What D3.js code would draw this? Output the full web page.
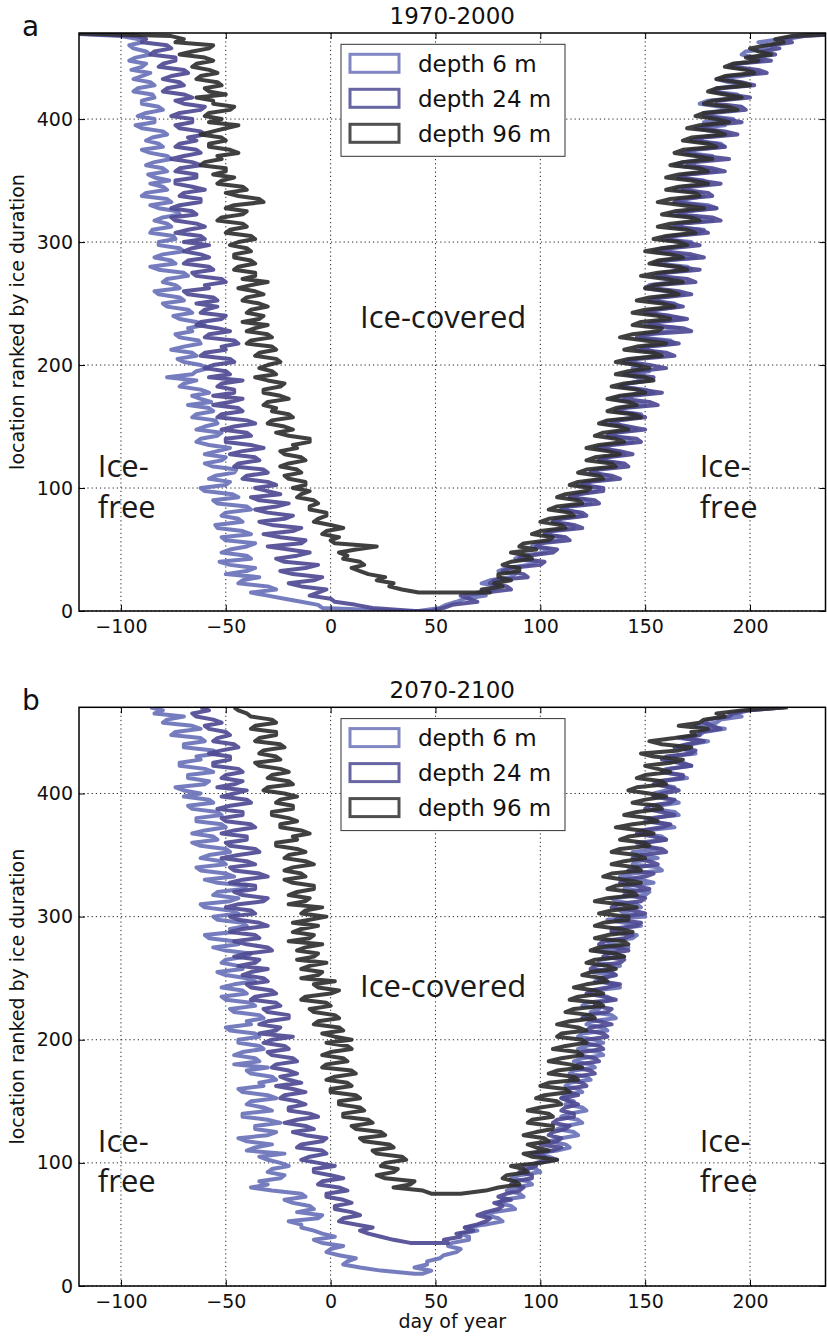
<!DOCTYPE html>
<html>
<head>
<meta charset="utf-8">
<script src="https://cdn.jsdelivr.net/npm/d3@7"></script>
<style>
  body { margin: 0; background: #fff; }
  svg { display: block; font-family: "DejaVu Sans", sans-serif; }
</style>
</head>
<body>
<svg id="chart" width="827" height="1341"></svg>
<script>
// location rank (y value) shared by every series, one entry per 2.5 locations
const ranks = d3.range(0, 470.1, 2.5);
const xTicks = [-100, -50, 0, 50, 100, 150, 200];
const yTicks = [0, 100, 200, 300, 400];
const depthLabels = ["depth 6 m", "depth 24 m", "depth 96 m"];
const depthColors = ["#6a72b8", "#4e4a93", "#303030"];
const panelTitles = ["1970-2000", "2070-2100"];
const panelLetters = ["a", "b"];

// 1970-2000: day of ice formation (freeze) and of break-up (melt), by rank
const freezeA6 = [
  35, -4, -6, -14, -22, -30, -38, -26, -30, -44, -42, -34, -50, -40, -36, -48, -53, -38, -40, -52,
  -48, -40, -36, -50, -52, -38, -42, -54, -55, -42, -44, -52, -50, -38, -40, -54, -56, -44, -47, -60,
  -62, -50, -48, -58, -55, -46, -45, -56, -60, -52, -50, -60, -54, -48, -58, -64, -62, -54, -52, -64,
  -60, -54, -55, -66, -64, -56, -58, -68, -57, -62, -66, -58, -62, -72, -70, -64, -78, -66, -64, -58,
  -62, -70, -73, -64, -66, -76, -70, -62, -63, -72, -74, -66, -68, -60, -64, -72, -75, -66, -68, -78,
  -80, -70, -72, -82, -84, -72, -74, -80, -78, -68, -70, -82, -86, -74, -76, -84, -80, -70, -72, -82,
  -82, -74, -75, -86, -85, -76, -78, -84, -80, -72, -73, -82, -86, -76, -78, -90, -88, -78, -80, -86,
  -77, -84, -87, -78, -80, -88, -84, -76, -78, -86, -90, -80, -82, -88, -85, -78, -80, -90, -93, -84,
  -84, -92, -88, -80, -82, -90, -90, -84, -85, -94, -92, -84, -86, -94, -90, -86, -95, -90, -88, -96,
  -93, -86, -88, -94, -96, -90, -92, -100, -130];
const meltA6 = [
  42, 52, 55, 60, 64, 74, 70, 78, 80, 72, 76, 86, 88, 80, 84, 94, 98, 88, 92, 102,
  104, 96, 98, 108, 110, 102, 104, 116, 114, 106, 108, 120, 118, 110, 112, 124, 122, 114, 118, 126,
  128, 118, 122, 134, 132, 124, 126, 136, 138, 128, 130, 140, 136, 126, 132, 144, 142, 132, 134, 146,
  140, 130, 134, 146, 148, 136, 138, 150, 144, 134, 140, 154, 150, 138, 142, 148, 146, 140, 152, 144,
  148, 140, 144, 156, 158, 146, 150, 164, 162, 148, 152, 160, 166, 150, 154, 168, 160, 150, 156, 166,
  164, 152, 156, 168, 160, 150, 152, 164, 166, 154, 158, 172, 170, 156, 160, 174, 164, 154, 158, 170,
  172, 158, 162, 176, 178, 162, 166, 182, 174, 162, 168, 184, 180, 164, 170, 178, 176, 164, 168, 180,
  178, 166, 170, 184, 176, 164, 168, 180, 182, 170, 174, 188, 186, 172, 176, 190, 182, 174, 188, 178,
  192, 180, 178, 190, 186, 176, 180, 196, 194, 182, 184, 198, 190, 184, 196, 204, 200, 190, 192, 206,
  202, 196, 198, 210, 208, 204, 214, 222, 250];
const freezeA24 = [
  40, 20, 12, 2, 0, -10, -6, -2, -14, -20, -8, -4, -18, -24, -12, -6, -22, -26, -16, -10,
  -20, -30, -14, -12, -24, -32, -18, -14, -28, -34, -22, -18, -30, -36, -26, -20, -34, -38, -24, -30,
  -36, -26, -30, -42, -40, -30, -32, -46, -44, -34, -36, -48, -42, -32, -38, -50, -50, -38, -40, -52,
  -46, -36, -40, -54, -52, -42, -44, -56, -48, -42, -56, -46, -46, -54, -52, -42, -58, -48, -50, -60,
  -56, -46, -48, -62, -60, -50, -52, -44, -46, -60, -58, -48, -54, -64, -62, -52, -50, -62, -60, -54,
  -64, -54, -56, -68, -70, -58, -60, -50, -52, -64, -66, -56, -58, -70, -68, -58, -62, -70, -66, -58,
  -70, -60, -62, -74, -68, -60, -64, -74, -76, -64, -66, -76, -72, -62, -62, -72, -70, -60, -66, -74,
  -74, -64, -64, -74, -72, -62, -66, -76, -70, -62, -64, -74, -72, -64, -68, -60, -62, -72, -74, -66,
  -66, -76, -72, -62, -60, -70, -74, -66, -70, -80, -78, -70, -72, -80, -76, -68, -70, -82, -80, -74,
  -74, -86, -84, -76, -78, -90, -88, -92, -130];
const meltA24 = [
  48, 54, 58, 70, 66, 62, 74, 86, 84, 76, 78, 94, 92, 82, 86, 100, 102, 90, 94, 106,
  108, 98, 100, 114, 112, 102, 106, 120, 116, 106, 110, 122, 120, 110, 114, 128, 126, 114, 118, 130,
  130, 120, 124, 138, 134, 124, 128, 142, 140, 128, 132, 144, 138, 128, 134, 148, 146, 132, 136, 150,
  142, 134, 138, 150, 146, 136, 140, 156, 152, 140, 144, 158, 148, 138, 142, 152, 154, 142, 146, 160,
  152, 142, 146, 164, 160, 148, 152, 166, 158, 146, 150, 172, 168, 152, 156, 170, 162, 150, 154, 168,
  162, 152, 158, 172, 166, 154, 156, 174, 170, 156, 160, 176, 164, 154, 158, 178, 172, 158, 162, 176,
  168, 160, 164, 180, 176, 164, 168, 186, 182, 166, 170, 184, 176, 164, 166, 182, 180, 168, 172, 186,
  176, 166, 170, 188, 182, 170, 174, 190, 178, 168, 172, 188, 184, 172, 178, 194, 188, 176, 180, 196,
  188, 178, 182, 198, 196, 184, 184, 200, 190, 182, 186, 202, 196, 186, 190, 208, 204, 192, 194, 210,
  200, 212, 206, 214, 210, 220, 216, 226, 250];
const freezeA96 = [
  null, null, null, null, null, null, 42, 34, 28, 30, 22, 26, 18, 14, 10, 16, 14, 6, 8, 4,
  12, 22, 2, 0, 4, -4, -2, 6, 0, -8, -6, -2, -2, -10, -10, -6, -8, -16, -14, -10,
  -18, -12, -12, -20, -22, -14, -16, -24, -20, -12, -14, -22, -24, -16, -18, -10, -10, -20, -26, -18,
  -22, -30, -28, -18, -20, -28, -26, -32, -30, -20, -24, -32, -32, -24, -22, -30, -36, -26, -28, -34,
  -30, -24, -26, -36, -34, -26, -28, -40, -38, -28, -30, -40, -36, -30, -42, -34, -32, -40, -38, -30,
  -34, -42, -40, -32, -36, -44, -38, -30, -42, -36, -36, -46, -44, -36, -38, -46, -46, -38, -40, -48,
  -44, -36, -38, -50, -48, -40, -42, -54, -52, -42, -40, -50, -46, -32, -34, -44, -50, -40, -42, -54,
  -52, -46, -56, -50, -50, -62, -60, -52, -54, -44, -48, -58, -58, -50, -52, -62, -56, -50, -44, -58,
  -52, -60, -58, -48, -46, -56, -56, -64, -50, -58, -60, -52, -54, -64, -62, -54, -58, -66, -64, -56,
  -60, -72, -66, -58, -56, -74, -70, -76, -130];
const meltA96 = [
  null, null, null, null, null, null, 76, 72, 82, 78, 86, 80, 80, 90, 90, 82, 86, 96, 94, 86,
  98, 90, 92, 104, 106, 96, 100, 112, 110, 100, 104, 116, 114, 104, 108, 120, 118, 108, 112, 122,
  124, 114, 118, 130, 128, 118, 122, 136, 134, 122, 126, 138, 132, 122, 128, 140, 136, 126, 130, 142,
  138, 128, 132, 148, 144, 132, 136, 146, 142, 132, 138, 150, 146, 134, 140, 154, 150, 136, 142, 152,
  146, 136, 142, 158, 154, 140, 146, 160, 150, 138, 144, 156, 158, 144, 148, 162, 156, 144, 150, 164,
  158, 146, 152, 166, 162, 150, 154, 168, 160, 148, 156, 170, 166, 152, 156, 168, 162, 150, 158, 170,
  166, 154, 160, 174, 170, 156, 162, 176, 172, 158, 164, 178, 168, 156, 162, 176, 174, 160, 166, 180,
  172, 160, 166, 180, 176, 162, 168, 182, 174, 164, 168, 184, 180, 168, 172, 188, 184, 170, 176, 190,
  184, 174, 178, 194, 190, 178, 182, 196, 188, 180, 184, 200, 194, 184, 188, 202, 198, 188, 192, 204,
  198, 210, 204, 200, 208, 216, 212, 220, 250];

// 2070-2100
const freezeB6 = [
  null, null, null, null, 40, 24, 14, 6, 8, 12, 4, -2, 0, 6, -4, -8, 2, -4, -8, -14,
  -14, -20, -6, -4, -16, -8, -10, -18, -22, -12, -14, -28, -38, -30, -34, -24, -22, -30, -28, -20,
  -24, -30, -34, -22, -40, -36, -28, -40, -44, -30, -26, -36, -36, -24, -30, -42, -42, -28, -32, -40,
  -38, -26, -30, -42, -44, -32, -34, -26, -28, -38, -40, -30, -46, -34, -36, -46, -42, -32, -34, -44,
  -44, -34, -36, -48, -50, -38, -40, -32, -34, -46, -48, -36, -38, -50, -52, -40, -42, -52, -46, -36,
  -40, -50, -54, -42, -44, -52, -50, -40, -38, -50, -56, -44, -46, -58, -60, -46, -48, -40, -42, -54,
  -56, -44, -48, -60, -62, -48, -44, -56, -54, -42, -40, -54, -60, -46, -50, -62, -64, -50, -52, -62,
  -58, -48, -50, -62, -66, -54, -56, -66, -60, -50, -52, -64, -64, -52, -54, -66, -68, -56, -58, -70,
  -62, -70, -74, -60, -58, -68, -68, -56, -60, -72, -72, -62, -64, -54, -56, -70, -70, -60, -62, -76,
  -74, -62, -66, -80, -78, -70, -84, -80, -86];
const meltB6 = [
  null, null, null, null, 44, 48, 40, 46, 46, 52, 54, 60, 62, 56, 58, 66, 66, 62, 70, 64,
  74, 82, 80, 74, 78, 88, 86, 80, 82, 92, 90, 84, 88, 96, 94, 86, 90, 100, 98, 92,
  100, 108, 104, 98, 108, 114, 112, 104, 110, 118, 116, 108, 112, 120, 118, 110, 114, 122, 120, 112,
  116, 110, 112, 120, 118, 112, 114, 124, 122, 114, 116, 126, 124, 116, 120, 130, 128, 118, 122, 130,
  126, 118, 120, 132, 130, 122, 124, 136, 134, 124, 128, 120, 122, 134, 132, 124, 126, 138, 136, 126,
  130, 136, 124, 132, 138, 128, 128, 140, 134, 126, 142, 134, 132, 144, 146, 134, 136, 148, 140, 132,
  150, 140, 138, 148, 146, 136, 134, 150, 152, 140, 142, 154, 148, 138, 144, 158, 156, 144, 146, 156,
  150, 144, 156, 148, 146, 160, 158, 148, 150, 164, 160, 150, 152, 166, 164, 154, 156, 166, 162, 154,
  154, 160, 164, 156, 158, 170, 166, 158, 160, 172, 168, 160, 162, 174, 170, 166, 172, 180, 166, 176,
  178, 188, 174, 184, 186, 196, 190, 198, 217];
const freezeB24 = [
  null, null, null, null, null, null, null, null, null, null, null, null, null, null, 38, 30, 24, 18, 14, 20,
  12, 4, 6, 14, 10, 2, 2, 10, 6, -2, -2, 8, 4, -6, -4, 6, 0, -8, -8, 2,
  -6, -14, -10, -2, -4, -16, -14, -4, -2, -12, -18, -8, -12, -22, -16, -6, -10, -20, -20, -12,
  -16, -24, -22, -12, -18, -26, -14, -20, -24, -16, -20, -28, -26, -16, -18, -28, -30, -20, -22, -32,
  -28, -18, -34, -26, -24, -34, -30, -20, -20, -30, -32, -24, -26, -38, -36, -26, -28, -38, -40, -30,
  -32, -42, -38, -30, -44, -36, -34, -46, -40, -28, -30, -40, -46, -34, -36, -48, -42, -30, -34, -44,
  -48, -36, -38, -50, -44, -32, -30, -42, -46, -36, -36, -48, -42, -30, -34, -46, -48, -36, -40, -52,
  -44, -34, -36, -48, -50, -40, -40, -52, -46, -36, -38, -50, -52, -42, -42, -54, -48, -38, -40, -52,
  -46, -40, -54, -46, -42, -52, -50, -42, -44, -56, -56, -48, -48, -58, -52, -44, -46, -56, -54, -48,
  -50, -58, -60, -52, -56, -64, -66, -58, -62];
const meltB24 = [
  null, null, null, null, null, null, null, null, null, null, null, null, null, null, 56, 54, 62, 60, 68, 64,
  70, 74, 76, 70, 74, 80, 82, 78, 86, 80, 84, 90, 92, 86, 88, 96, 96, 90, 94, 98,
  98, 104, 102, 96, 106, 110, 100, 108, 110, 104, 106, 112, 114, 106, 108, 116, 116, 110, 112, 118,
  114, 110, 118, 114, 112, 122, 120, 114, 116, 126, 124, 116, 118, 128, 126, 118, 120, 130, 128, 120,
  122, 132, 130, 122, 124, 134, 128, 120, 122, 132, 134, 126, 126, 136, 130, 122, 124, 132, 138, 128,
  128, 136, 134, 124, 126, 138, 140, 130, 132, 142, 136, 128, 130, 140, 144, 134, 134, 146, 148, 136,
  140, 150, 144, 134, 136, 148, 150, 140, 142, 152, 146, 138, 140, 150, 154, 142, 146, 156, 152, 144,
  148, 160, 158, 148, 150, 160, 154, 146, 148, 158, 162, 152, 154, 164, 158, 150, 152, 162, 164, 154,
  158, 166, 162, 154, 156, 168, 168, 158, 162, 172, 166, 158, 160, 172, 174, 164, 170, 178, 168, 176,
  176, 186, 182, 178, 180, 190, 192, 200, 216];
const freezeB96 = [
  null, null, null, null, null, null, null, null, null, null, null, null, null, null, null, null, null, null, null, null,
  null, null, null, null, null, null, null, null, null, null, 48, 44, 30, 38, 40, 26, 22, 30, 32, 24,
  26, 36, 34, 22, 20, 30, 28, 16, 14, 26, 24, 12, 10, 20, 18, 6, 6, 16, 14, 4,
  4, 14, 12, 0, 0, 10, 8, -2, 2, 12, 10, -4, -2, 8, 6, -4, 0, 10, 8, -2,
  10, 2, -4, 6, 4, -8, -6, 4, 2, -8, -10, 0, -2, -14, -12, 0, 4, -6, -8, 2,
  -14, -6, -4, -14, -10, -2, -16, -8, -6, -16, -12, -4, -20, -10, -8, -18, -14, -6, -18, -10,
  -2, -14, -12, -4, -20, -12, -10, -20, -16, -8, -8, -18, -22, -12, -14, -22, -18, -8, -12, -22,
  -20, -12, -16, -26, -26, -16, -18, -10, -14, -24, -24, -16, -20, -28, -28, -18, -18, -26, -24, -16,
  -22, -32, -30, -18, -20, -30, -28, -20, -24, -34, -36, -24, -26, -34, -32, -22, -24, -36, -34, -26,
  -26, -38, -36, -26, -28, -38, -40, -44, -46];
const meltB96 = [
  null, null, null, null, null, null, null, null, null, null, null, null, null, null, null, null, null, null, null, null,
  null, null, null, null, null, null, null, null, null, null, 62, 74, 80, 90, 88, 82, 84, 94, 92, 86,
  100, 108, 96, 92, 104, 98, 94, 104, 102, 92, 98, 106, 106, 94, 96, 106, 104, 94, 100, 110,
  108, 98, 102, 114, 112, 100, 104, 118, 116, 104, 108, 120, 114, 104, 110, 120, 118, 106, 112, 122,
  120, 108, 110, 122, 118, 108, 114, 126, 124, 112, 116, 130, 128, 114, 118, 130, 126, 116, 122, 132,
  130, 120, 124, 136, 132, 122, 126, 140, 136, 124, 128, 142, 140, 126, 132, 144, 138, 126, 130, 142,
  142, 128, 134, 146, 138, 126, 132, 146, 144, 132, 136, 148, 140, 130, 134, 148, 146, 134, 140, 150,
  146, 134, 138, 152, 150, 138, 142, 154, 148, 136, 144, 156, 152, 140, 146, 158, 156, 144, 150, 160,
  152, 142, 146, 160, 158, 146, 150, 162, 156, 150, 162, 168, 154, 148, 166, 172, 158, 152, 164, 174,
  172, 180, 166, 176, 178, 188, 184, 196, 218];

const panels = [
  { top: 33, bottom: 611, coveredY: 230,
    freeze: [freezeA6, freezeA24, freezeA96], melt: [meltA6, meltA24, meltA96] },
  { top: 707.3, bottom: 1286, coveredY: 235,
    freeze: [freezeB6, freezeB24, freezeB96], melt: [meltB6, meltB24, meltB96] }
];

const svg = d3.select("#chart");
const left = 79, right = 825.5;

function drawPanel(p, k) {
  const x = d3.scaleLinear().domain([-120, 236]).range([left, right]);
  const y = d3.scaleLinear().domain([0, 470]).range([p.bottom, p.top]);
  const g = svg.append("g");

  // grid
  const grid = g.append("g")
    .attr("stroke", "#222")
    .attr("stroke-width", 1)
    .attr("stroke-dasharray", "1.2,3");
  grid.selectAll(".gx").data(xTicks).enter().append("line")
    .attr("x1", d => x(d)).attr("x2", d => x(d))
    .attr("y1", p.top).attr("y2", p.bottom);
  grid.selectAll(".gy").data(yTicks).enter().append("line")
    .attr("x1", left).attr("x2", right)
    .attr("y1", d => y(d)).attr("y2", d => y(d));

  // one path per depth: formation days going down, then break-up days going up
  g.append("clipPath").attr("id", "clip" + k)
    .append("rect")
    .attr("x", left).attr("y", p.top)
    .attr("width", right - left).attr("height", p.bottom - p.top);
  const line = d3.line()
    .x(d => x(d[0]))
    .y(d => y(d[1]));
  const curves = g.append("g").attr("clip-path", `url(#clip${k})`);
  depthLabels.forEach((lab, i) => {
    const down = ranks.map((r, j) => [p.freeze[i][j], r])
      .filter(d => d[0] != null).reverse();
    const up = ranks.map((r, j) => [p.melt[i][j], r])
      .filter(d => d[0] != null);
    curves.append("path")
      .attr("d", line(down.concat(up)))
      .attr("fill", "none")
      .attr("stroke", depthColors[i])
      .attr("stroke-width", 4)
      .attr("stroke-linejoin", "round")
      .attr("stroke-opacity", 0.92);
  });

  // axes, ticks pointing in on all four sides
  const xAxis = d3.axisBottom(x).tickValues(xTicks)
    .tickSizeInner(-6).tickSizeOuter(0).tickPadding(9)
    .tickFormat(d3.format("d"));
  const yAxis = d3.axisLeft(y).tickValues(yTicks)
    .tickSizeInner(-6).tickSizeOuter(0).tickPadding(6);
  g.append("g").attr("transform", `translate(0,${p.bottom})`).call(xAxis);
  g.append("g").attr("transform", `translate(${left},0)`).call(yAxis);
  g.append("g").attr("transform", `translate(0,${p.top})`)
    .call(d3.axisTop(x).tickValues(xTicks).tickSizeInner(-6).tickSizeOuter(0).tickFormat(""));
  g.append("g").attr("transform", `translate(${right},0)`)
    .call(d3.axisRight(y).tickValues(yTicks).tickSizeInner(-6).tickSizeOuter(0).tickFormat(""));
  g.selectAll(".domain").remove();
  g.selectAll(".tick line").attr("stroke", "#000").attr("stroke-width", 1);
  g.selectAll(".tick text")
    .attr("font-size", 19)
    .attr("font-family", "DejaVu Sans")
    .attr("fill", "#111");

  g.append("rect")
    .attr("x", left).attr("y", p.top)
    .attr("width", right - left).attr("height", p.bottom - p.top)
    .attr("fill", "none").attr("stroke", "#000").attr("stroke-width", 1.5);

  // titles
  g.append("text").text(panelTitles[k])
    .attr("x", (left + right) / 2).attr("y", p.top - 9)
    .attr("text-anchor", "middle").attr("font-size", 23).attr("fill", "#111");
  g.append("text").text(panelLetters[k])
    .attr("x", 22).attr("y", p.top + 3)
    .attr("font-size", 28).attr("fill", "#111");
  g.append("text").text("location ranked by ice duration")
    .attr("transform", `translate(24,${(p.top + p.bottom) / 2}) rotate(-90)`)
    .attr("text-anchor", "middle").attr("font-size", 19).attr("fill", "#111");

  // region labels
  const lab = g.append("g")
    .attr("font-family", "'Open Sans', sans-serif")
    .attr("font-size", 31).attr("fill", "#1a1a1a");
  lab.append("text").text("Ice-covered").attr("x", x(14)).attr("y", y(p.coveredY));
  [[-111, 109, "Ice-"], [-111, 76, "free"], [176, 109, "Ice-"], [176, 76, "free"]]
    .forEach(t => lab.append("text").text(t[2]).attr("x", x(t[0])).attr("y", y(t[1])));

  // legend
  const leg = g.append("g").attr("transform", `translate(341,${p.top + 11.3})`);
  leg.append("rect").attr("width", 224).attr("height", 112)
    .attr("fill", "#fff").attr("stroke", "#333").attr("stroke-width", 1);
  depthLabels.forEach((d, i) => {
    leg.append("rect")
      .attr("x", 9).attr("y", 10 + i * 35)
      .attr("width", 49).attr("height", 18)
      .attr("fill", "#fff").attr("stroke", depthColors[i])
      .attr("stroke-width", 3).attr("stroke-opacity", 0.85);
    leg.append("text").text(d)
      .attr("x", 77).attr("y", 27.5 + i * 35)
      .attr("font-size", 23).attr("fill", "#111");
  });
}

panels.forEach(drawPanel);

svg.append("text").text("day of year")
  .attr("x", (left + right) / 2).attr("y", 1328)
  .attr("text-anchor", "middle").attr("font-size", 19).attr("fill", "#111");
</script>
</body>
</html>
